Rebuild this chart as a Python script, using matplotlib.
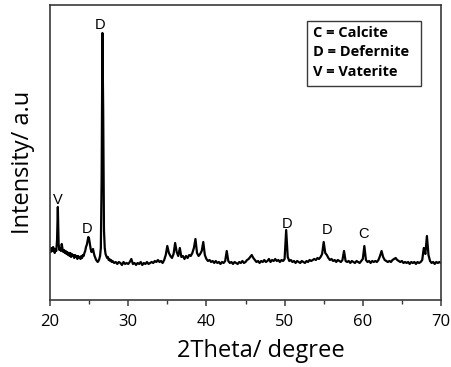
import numpy as np
import matplotlib
matplotlib.use("Agg")
import matplotlib.pyplot as plt
from matplotlib.patches import Rectangle

# XRD scan: 0.1 deg steps from 20 to 27.9, then 0.2 deg steps from 28 to 70
two_theta = np.round(np.concatenate([np.arange(20.0, 27.95, 0.1),
                                     np.arange(28.0, 70.01, 0.2)]), 2)

intensity = [
    # 20.0 - 27.9 (0.1 deg)
    51, 48, 52, 49, 53, 50, 47, 51, 49, 60,
    93, 56, 50, 52, 49, 56, 51, 48, 50, 47,
    49, 46, 48, 45, 47, 44, 47, 43, 46, 44,
    45, 42, 45, 43, 44, 41, 44, 42, 43, 41,
    44, 42, 45, 44, 47, 49, 53, 55, 59, 63,
    61, 56, 51, 48, 49, 51, 47, 44, 42, 40,
    39, 38, 39, 41, 44, 52, 120, 267, 190, 70,
    52, 46, 44, 42, 43, 40, 41, 39, 40, 38,
    # 28.0 - 70.0 (0.2 deg)
    39, 37, 38, 36, 38, 37, 35, 38, 36, 37,
    36, 38, 41, 36, 37, 35, 37, 36, 38, 35,
    37, 36, 38, 36, 37, 38, 37, 39, 38, 40,
    38, 39, 37, 40, 45, 54, 47, 44, 42, 46,
    57, 48, 44, 52, 43, 44, 41, 44, 42, 45,
    44, 47, 52, 61, 47, 44, 46, 49, 58, 45,
    41, 39, 40, 38, 39, 37, 39, 37, 38, 36,
    38, 37, 39, 49, 39, 37, 38, 36, 38, 37,
    36, 38, 37, 39, 37, 38, 40, 41, 43, 45,
    42, 40, 38, 39, 37, 39, 38, 40, 38, 39,
    41, 38, 40, 39, 41, 39, 40, 38, 40, 39,
    41, 70, 43, 39, 40, 38, 39, 37, 39, 38,
    37, 39, 38, 37, 39, 38, 40, 39, 40, 41,
    40, 42, 41, 43, 46, 58, 47, 45, 42, 40,
    41, 39, 40, 38, 40, 39, 38, 40, 49, 39,
    38, 39, 37, 39, 38, 37, 39, 38, 37, 39,
    41, 54, 40, 38, 39, 37, 39, 38, 39, 38,
    40, 44, 49, 43, 40, 39, 38, 39, 38, 40,
    41, 42, 40, 39, 38, 39, 37, 38, 37, 38,
    36, 38, 37, 38, 36, 38, 37, 38, 40, 52,
    46, 64, 45, 39, 37, 38, 36, 38, 37, 38,
    37,
]

# Phase labels placed over the reflections
peak_labels = ["V", "D", "D", "D", "D", "C"]
peak_label_x = [21.0, 24.75, 26.4, 50.3, 55.4, 60.1]
peak_label_y = [100, 71, 275, 76, 70, 66]

legend_lines = ["C = Calcite", "D = Defernite", "V = Vaterite"]

fig = plt.figure(figsize=(4.51, 3.67), dpi=100)
ax = fig.add_axes([0.1109, 0.1826, 0.8669, 0.8038])

ax.plot(two_theta, intensity, color="black", lw=1.6)

ax.set_xlim(20, 70)
ax.set_ylim(0, 295)
ax.set_xticks([20, 30, 40, 50, 60, 70])
ax.set_xticks(np.arange(25, 70, 10), minor=True)
ax.set_yticks([])

frame = "#3a3a3a"
for side in ["top", "right", "left", "bottom"]:
    ax.spines[side].set_color(frame)
    ax.spines[side].set_linewidth(1.2)

ax.tick_params(axis="x", which="major", direction="out", length=4, width=1.1,
               color=frame, labelsize=12, pad=6)
ax.tick_params(axis="x", which="minor", direction="out", length=3, width=1.0,
               color=frame)
for lab in ax.get_xticklabels():
    lab.set_fontfamily("Open Sans")

ax.set_xlabel("2Theta/ degree", fontsize=17, family="Open Sans", va="center")
ax.xaxis.set_label_coords(0.54, -0.173)
ax.set_ylabel("Intensity/ a.u", fontsize=17, family="Open Sans", va="center")
ax.yaxis.set_label_coords(-0.069, 0.468)

for lab, x, y in zip(peak_labels, peak_label_x, peak_label_y):
    ax.text(x, y, lab, ha="center", va="center", fontsize=10.5,
            family="Liberation Sans")

box = Rectangle((0.657, 0.725), 0.292, 0.221, transform=ax.transAxes,
                fill=False, edgecolor=frame, lw=1.0)
ax.add_patch(box)
for i, line in enumerate(legend_lines):
    ax.text(0.672, 0.905 - i * 0.066, line, transform=ax.transAxes,
            ha="left", va="center", fontsize=10.5, fontweight="bold",
            family="Open Sans")

fig.savefig("out.png", dpi=100)
